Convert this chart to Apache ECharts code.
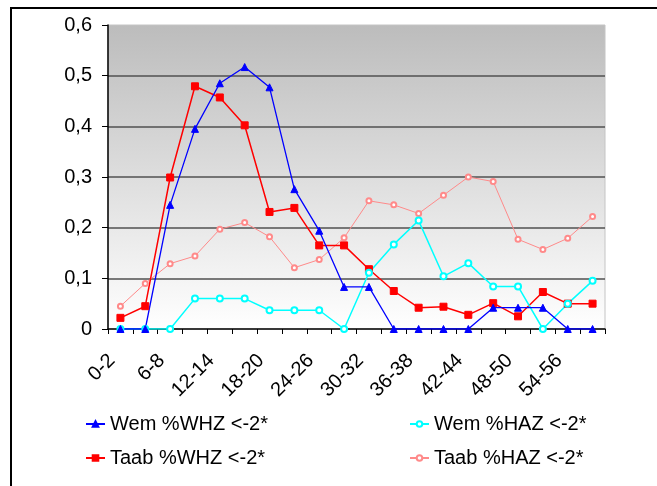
<!DOCTYPE html>
<html>
<head>
<meta charset="utf-8">
<script src="https://cdn.jsdelivr.net/npm/echarts@6/dist/echarts.min.js"></script>
<style>
html,body{margin:0;padding:0;background:#fff;}
#c{width:657px;height:486px;}
</style>
</head>
<body>
<div id="c"></div>
<script>
var categories = ['0-2','3-5','6-8','9-11','12-14','15-17','18-20','21-23','24-26','27-29','30-32','33-35','36-38','39-41','42-44','45-47','48-50','51-53','54-56','57-59'];
var wemWHZ  = [0, 0, 0.245, 0.395, 0.485, 0.517, 0.477, 0.276, 0.194, 0.083, 0.083, 0, 0, 0, 0, 0.042, 0.042, 0.042, 0, 0];
var wemHAZ  = [0, 0, 0, 0.060, 0.060, 0.060, 0.037, 0.037, 0.037, 0, 0.111, 0.167, 0.214, 0.104, 0.130, 0.084, 0.084, 0, 0.050, 0.095];
var taabWHZ = [0.022, 0.045, 0.299, 0.479, 0.457, 0.402, 0.231, 0.239, 0.165, 0.165, 0.118, 0.075, 0.042, 0.044, 0.028, 0.051, 0.025, 0.073, 0.050, 0.050];
var taabHAZ = [0.045, 0.090, 0.129, 0.144, 0.197, 0.210, 0.182, 0.121, 0.137, 0.180, 0.253, 0.245, 0.228, 0.264, 0.300, 0.291, 0.177, 0.157, 0.179, 0.222];
var seriesNames = ['Wem %WHZ <-2*', 'Wem %HAZ <-2*', 'Taab %WHZ <-2*', 'Taab %HAZ <-2*'];

var FONT = "'Liberation Sans', Arial, sans-serif";
var chart = echarts.init(document.getElementById('c'), null, {renderer: 'canvas'});

function lineSeries(name, data, color, symbol, size, width) {
  return {
    name: name, type: 'line', data: data,
    symbol: symbol, symbolSize: size,
    lineStyle: {color: color, width: width},
    itemStyle: {color: color, borderColor: color, borderWidth: 1},
    emphasis: {disabled: true},
    animation: false
  };
}

var legendCommon = {
  orient: 'vertical', top: 414, padding: 0,
  itemWidth: 19, itemHeight: 7, itemGap: 14,
  textStyle: {fontSize: 20, color: '#000', fontFamily: FONT, padding: [0,0,0,0]},
  selectedMode: false
};

chart.setOption({
  backgroundColor: '#ffffff',
  animation: false,
  textStyle: {fontFamily: FONT},
  graphic: [{
    type: 'rect', z: 100, silent: true,
    shape: {x: 11, y: 8, width: 700, height: 520},
    style: {fill: 'none', stroke: '#000', lineWidth: 2}
  }],
  grid: {
    left: 108, right: 52, top: 25, bottom: 157,
    show: true, borderColor: '#c4c4c4', borderWidth: 1,
    backgroundColor: new echarts.graphic.LinearGradient(0, 0, 0, 1, [
      {offset: 0, color: '#bcbcbc'},
      {offset: 1, color: '#ffffff'}
    ])
  },
  legend: [
    Object.assign({data: [seriesNames[0], seriesNames[2]], left: 85}, legendCommon),
    Object.assign({data: [seriesNames[1], seriesNames[3]], left: 409}, legendCommon)
  ],
  xAxis: {
    type: 'category', data: categories, boundaryGap: true,
    axisLine: {lineStyle: {color: '#000', width: 1.5}},
    axisTick: {show: true, interval: 0, length: 5, inside: false, lineStyle: {color: '#000'}},
    axisLabel: {interval: 1, rotate: 45, margin: 20, padding: [0, 12, 0, 0], fontSize: 20, color: '#000', fontFamily: FONT},
    splitLine: {show: false}
  },
  yAxis: {
    type: 'value', min: 0, max: 0.6, interval: 0.1,
    axisLine: {show: true, lineStyle: {color: '#000', width: 1.5}},
    axisTick: {show: true, length: 6, lineStyle: {color: '#000'}},
    axisLabel: {
      fontSize: 20, color: '#000', margin: 16, fontFamily: FONT,
      formatter: function (v) { return v === 0 ? '0' : v.toFixed(1).replace('.', ','); }
    },
    splitLine: {show: true, showMaxLine: false, showMinLine: false, lineStyle: {color: '#505050', width: 1.5}}
  },
  series: [
    lineSeries(seriesNames[3], taabHAZ, '#ff8a8a', 'emptyCircle', 5, 1),
    lineSeries(seriesNames[2], taabWHZ, '#ff0000', 'rect', 7, 1.5),
    lineSeries(seriesNames[1], wemHAZ, '#00ffff', 'emptyCircle', 6, 1.5),
    lineSeries(seriesNames[0], wemWHZ, '#0000ff', 'triangle', 7, 1.3)
  ]
});
</script>
</body>
</html>
